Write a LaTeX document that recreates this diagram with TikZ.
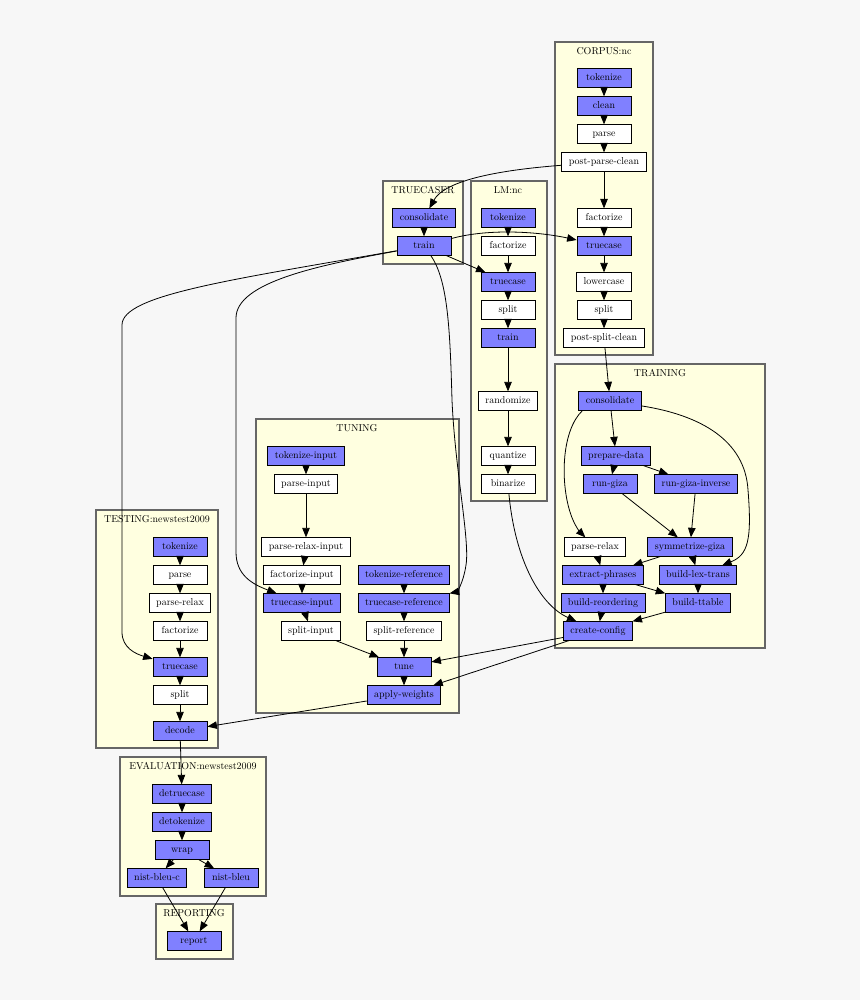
\documentclass[tikz,border=0pt]{standalone}
\usepackage{xcolor}
\usepackage{tikz}
\usetikzlibrary{arrows.meta, positioning}

\definecolor{pagebg}{RGB}{247,247,247}
\definecolor{clusterfill}{RGB}{255,255,224}
\definecolor{clusterline}{RGB}{102,102,102}
\definecolor{runblue}{RGB}{128,128,255}

\begin{document}
\begin{tikzpicture}[x=1pt, y=-1pt, node distance=28pt, font=\fontsize{10}{12}\selectfont]
    \tikzstyle{active} = [rectangle, draw, fill=runblue, minimum width=54pt, minimum height=18.5pt, inner xsep=7pt, inner ysep=0pt, text height=6.8pt, text depth=2pt, line width=0.8pt]
    \tikzstyle{reused} = [active, fill=white]
    \tikzstyle{cluster} = [draw=clusterline, fill=clusterfill, line width=1.6pt]
    \tikzstyle{clabel} = [inner sep=0pt]
    \tikzstyle{line} = [draw, line width=0.8pt, -{Triangle[length=9.5pt, width=7.5pt]}]

    \fill [pagebg] (0,0) rectangle (860,1000);

    % clusters
    \draw [cluster] (555,42) rectangle (653,355);
    \node [clabel] (corpus) at (604,51) {CORPUS:nc};
    \draw [cluster] (383,181) rectangle (463,264);
    \node [clabel] (truecaser) at (423,190) {TRUECASER};
    \draw [cluster] (471,181) rectangle (547,501);
    \node [clabel] (lm) at (508,190) {LM:nc};
    \draw [cluster] (555,364) rectangle (765,648);
    \node [clabel] (training) at (660,373) {TRAINING};
    \draw [cluster] (256,419) rectangle (459,713);
    \node [clabel] (tuning) at (357,428) {TUNING};
    \draw [cluster] (96,510) rectangle (218,748);
    \node [clabel] (testing) at (157,519) {TESTING:newstest2009};
    \draw [cluster] (120,757) rectangle (266,896);
    \node [clabel] (evaluation) at (193,766) {EVALUATION:newstest2009};
    \draw [cluster] (156,904) rectangle (233,959);
    \node [clabel] (reporting) at (194,913) {REPORTING};

    % CORPUS:nc
    \node [active] (c-tokenize) at (604,78) {tokenize};
    \node [active, below of=c-tokenize] (c-clean) {clean};
    \node [reused, below of=c-clean] (c-parse) {parse};
    \node [reused, below of=c-parse] (c-post-parse) {post-parse-clean};
    \node [reused, below of=c-post-parse, node distance=56pt] (c-factorize) {factorize};
    \node [active, below of=c-factorize] (c-truecase) {truecase};
    \node [reused, below of=c-truecase, node distance=36pt] (c-lowercase) {lowercase};
    \node [reused, below of=c-lowercase] (c-split) {split};
    \node [reused, below of=c-split] (c-post-split) {post-split-clean};

    % TRUECASER
    \node [active] (tc-consolidate) at (424,218) {consolidate};
    \node [active, below of=tc-consolidate] (tc-train) {train};

    % LM:nc
    \node [active] (lm-tokenize) at (508,218) {tokenize};
    \node [reused, below of=lm-tokenize] (lm-factorize) {factorize};
    \node [active, below of=lm-factorize, node distance=36pt] (lm-truecase) {truecase};
    \node [reused, below of=lm-truecase] (lm-split) {split};
    \node [active, below of=lm-split] (lm-train) {train};
    \node [reused, below of=lm-train, node distance=63pt] (lm-randomize) {randomize};
    \node [reused, below of=lm-randomize, node distance=55pt] (lm-quantize) {quantize};
    \node [reused, below of=lm-quantize] (lm-binarize) {binarize};

    % TRAINING
    \node [active] (tr-consolidate) at (610,401) {consolidate};
    \node [active] (tr-prepare) at (616,456) {prepare-data};
    \node [active] (tr-giza) at (610,484) {run-giza};
    \node [active, right of=tr-giza, node distance=86pt] (tr-giza-inv) {run-giza-inverse};
    \node [reused] (tr-parse-relax) at (595,547) {parse-relax};
    \node [active] (tr-symmetrize) at (690,547) {symmetrize-giza};
    \node [active] (tr-extract) at (603,575) {extract-phrases};
    \node [active] (tr-lex) at (698,575) {build-lex-trans};
    \node [active, below of=tr-extract] (tr-reordering) {build-reordering};
    \node [active, below of=tr-lex] (tr-ttable) {build-ttable};
    \node [active] (tr-config) at (598,631) {create-config};

    % TUNING
    \node [active] (tu-tokenize-in) at (306,456) {tokenize-input};
    \node [reused, below of=tu-tokenize-in] (tu-parse-in) {parse-input};
    \node [reused, below of=tu-parse-in, node distance=63pt] (tu-parse-relax-in) {parse-relax-input};
    \node [reused] (tu-factorize-in) at (302,575) {factorize-input};
    \node [active, below of=tu-factorize-in] (tu-truecase-in) {truecase-input};
    \node [reused] (tu-split-in) at (311,631) {split-input};
    \node [active] (tu-tokenize-ref) at (404,575) {tokenize-reference};
    \node [active, below of=tu-tokenize-ref] (tu-truecase-ref) {truecase-reference};
    \node [reused, below of=tu-truecase-ref] (tu-split-ref) {split-reference};
    \node [active, below of=tu-split-ref, node distance=36pt] (tu-tune) {tune};
    \node [active, below of=tu-tune] (tu-apply) {apply-weights};

    % TESTING:newstest2009
    \node [active] (te-tokenize) at (180,547) {tokenize};
    \node [reused, below of=te-tokenize] (te-parse) {parse};
    \node [reused, below of=te-parse] (te-parse-relax) {parse-relax};
    \node [reused, below of=te-parse-relax] (te-factorize) {factorize};
    \node [active, below of=te-factorize, node distance=36pt] (te-truecase) {truecase};
    \node [reused, below of=te-truecase] (te-split) {split};
    \node [active, below of=te-split, node distance=36pt] (te-decode) {decode};

    % EVALUATION:newstest2009
    \node [active] (ev-detruecase) at (182,794) {detruecase};
    \node [active, below of=ev-detruecase] (ev-detokenize) {detokenize};
    \node [active, below of=ev-detokenize] (ev-wrap) {wrap};
    \node [active] (ev-bleu-c) at (157,878) {nist-bleu-c};
    \node [active] (ev-bleu) at (231,878) {nist-bleu};

    % REPORTING
    \node [active] (rp-report) at (194,941) {report};

    % edges inside clusters
    \path [line] (c-tokenize) -- (c-clean);
    \path [line] (c-clean) -- (c-parse);
    \path [line] (c-parse) -- (c-post-parse);
    \path [line] (c-post-parse) -- (c-factorize);
    \path [line] (c-factorize) -- (c-truecase);
    \path [line] (c-truecase) -- (c-lowercase);
    \path [line] (c-lowercase) -- (c-split);
    \path [line] (c-split) -- (c-post-split);

    \path [line] (tc-consolidate) -- (tc-train);

    \path [line] (lm-tokenize) -- (lm-factorize);
    \path [line] (lm-factorize) -- (lm-truecase);
    \path [line] (lm-truecase) -- (lm-split);
    \path [line] (lm-split) -- (lm-train);
    \path [line] (lm-train) -- (lm-randomize);
    \path [line] (lm-randomize) -- (lm-quantize);
    \path [line] (lm-quantize) -- (lm-binarize);

    \path [line] (tr-consolidate) -- (tr-prepare);
    \path [line] (tr-prepare) -- (tr-giza);
    \path [line] (tr-prepare) -- (tr-giza-inv);
    \path [line] (tr-giza) -- (tr-symmetrize);
    \path [line] (tr-giza-inv) -- (tr-symmetrize);
    \path [line] (tr-symmetrize) -- (tr-extract);
    \path [line] (tr-symmetrize) -- (tr-lex);
    \path [line] (tr-parse-relax) -- (tr-extract);
    \path [line] (tr-extract) -- (tr-reordering);
    \path [line] (tr-extract) -- (tr-ttable);
    \path [line] (tr-lex) -- (tr-ttable);
    \path [line] (tr-reordering) -- (tr-config);
    \path [line] (tr-ttable) -- (tr-config);
    \path [line] ([xshift=4pt]tr-consolidate.south west) .. controls (562,430) and (560,480) .. (570,512) .. controls (574,525) and (580,532) .. (tr-parse-relax);
    \path [line] (tr-consolidate) .. controls (700,415) and (745,440) .. (748,490) .. controls (752,540) and (748,555) .. (tr-lex);

    \path [line] (tu-tokenize-in) -- (tu-parse-in);
    \path [line] (tu-parse-in) -- (tu-parse-relax-in);
    \path [line] (tu-parse-relax-in) -- (tu-factorize-in);
    \path [line] (tu-factorize-in) -- (tu-truecase-in);
    \path [line] (tu-truecase-in) -- (tu-split-in);
    \path [line] (tu-split-in) -- (tu-tune);
    \path [line] (tu-tokenize-ref) -- (tu-truecase-ref);
    \path [line] (tu-truecase-ref) -- (tu-split-ref);
    \path [line] (tu-split-ref) -- (tu-tune);
    \path [line] (tu-tune) -- (tu-apply);

    \path [line] (te-tokenize) -- (te-parse);
    \path [line] (te-parse) -- (te-parse-relax);
    \path [line] (te-parse-relax) -- (te-factorize);
    \path [line] (te-factorize) -- (te-truecase);
    \path [line] (te-truecase) -- (te-split);
    \path [line] (te-split) -- (te-decode);

    \path [line] (ev-detruecase) -- (ev-detokenize);
    \path [line] (ev-detokenize) -- (ev-wrap);
    \path [line] (ev-wrap) -- (ev-bleu-c);
    \path [line] (ev-wrap) -- (ev-bleu);

    % edges between clusters
    \path [line] (c-post-parse) .. controls (500,170) and (445,180) .. (tc-consolidate);
    \path [line] (c-post-split) -- (tr-consolidate);
    \path [line] (tc-train) .. controls (490,228) and (540,232) .. (c-truecase);
    \path [line] (tc-train) -- (lm-truecase);
    \path [line] (tc-train) .. controls (230,280) and (122,295) .. (122,325) -- (122,632) .. controls (122,648) and (136,654) .. (te-truecase);
    \path [line] (tc-train) .. controls (320,265) and (236,282) .. (236,318) -- (236,552) .. controls (236,575) and (252,584) .. (tu-truecase-in);
    \path [line] (tc-train) .. controls (448,280) and (450,330) .. (452,400) .. controls (455,470) and (470,540) .. (466,565) .. controls (463,585) and (456,592) .. (tu-truecase-ref);
    \path [line] (lm-binarize) .. controls (515,560) and (540,605) .. (tr-config);
    \path [line] (tr-config) -- (tu-tune);
    \path [line] (tr-config) -- (tu-apply);
    \path [line] (tu-apply) -- (te-decode);
    \path [line] (te-decode) -- (ev-detruecase);
    \path [line] (ev-bleu-c) -- (rp-report);
    \path [line] (ev-bleu) -- (rp-report);
\end{tikzpicture}
\end{document}
